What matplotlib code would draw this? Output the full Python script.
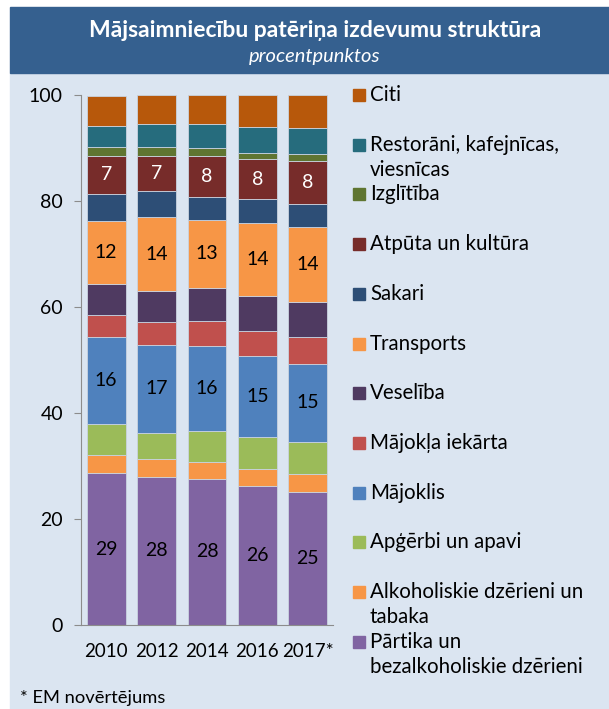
import matplotlib
matplotlib.use('Agg')
import matplotlib.pyplot as plt
from matplotlib.patches import Rectangle
import numpy as np

plt.rcParams['font.family'] = ['Lato', 'DejaVu Sans']

years = ['2010', '2012', '2014', '2016', '2017*']

# shares in percent, bottom to top
partika = [28.6, 28.0, 27.6, 26.2, 25.1]
alkohols = [3.4, 3.3, 3.2, 3.2, 3.4]
apgerbi = [6.0, 4.9, 5.8, 6.0, 6.1]
majoklis = [16.4, 16.7, 16.1, 15.3, 14.6]
iekarta = [4.1, 4.3, 4.7, 4.8, 5.1]
veseliba = [5.9, 5.8, 6.2, 6.6, 6.6]
transports = [11.9, 14.0, 12.8, 13.8, 14.2]
sakari = [5.1, 4.8, 4.3, 4.4, 4.4]
atputa = [7.1, 6.7, 7.8, 7.6, 8.1]
izglitiba = [1.7, 1.7, 1.45, 1.25, 1.3]
restorani = [4.0, 4.35, 4.55, 4.85, 4.8]
citi = [5.7, 5.45, 5.5, 6.0, 6.3]

series = [partika, alkohols, apgerbi, majoklis, iekarta, veseliba,
          transports, sakari, atputa, izglitiba, restorani, citi]
names = ['Pārtika un\nbezalkoholiskie dzērieni', 'Alkoholiskie dzērieni un\ntabaka',
         'Apģērbi un apavi', 'Mājoklis', 'Mājokļa iekārta', 'Veselība',
         'Transports', 'Sakari', 'Atpūta un kultūra', 'Izglītība',
         'Restorāni, kafejnīcas,\nviesnīcas', 'Citi']
colors = ['#8064A2', '#F79646', '#9BBB59', '#4F81BD', '#C0504D', '#4F3A61',
          '#F79646', '#2D4E76', '#772C2A', '#5F7531', '#266C7D', '#B7580B']
# which series carry value labels, and label colour
labelled = {0: 'black', 3: 'black', 6: 'black', 8: 'white'}

bg = '#DBE5F1'
band = '#35608F'

W, H = 609, 709
fig = plt.figure(figsize=(6.09, 7.09), dpi=100)
fig.patch.set_facecolor('white')
fig.add_artist(Rectangle((10 / W, 0), 599 / W, 1 - 73 / H,
                         transform=fig.transFigure, color=bg, zorder=0))
fig.add_artist(Rectangle((10 / W, 1 - 73 / H), 599 / W, 66 / H,
                         transform=fig.transFigure, color=band, zorder=0))
fig.text(315 / W, 1 - 37 / H, 'Mājsaimniecību patēriņa izdevumu struktūra',
         ha='center', va='baseline', color='white', fontsize=16.5, fontweight='bold')
fig.text(315 / W, 1 - 62 / H, 'procentpunktos', ha='center', va='baseline',
         color='white', fontsize=14.5, style='italic')

ax = fig.add_axes([81 / W, 1 - 625 / H, 252 / W, 530 / H])
ax.set_facecolor('none')
x = np.arange(len(years))
bottom = np.zeros(len(years))
for i, (vals, c) in enumerate(zip(series, colors)):
    vals = np.array(vals)
    ax.bar(x, vals, 0.77, bottom=bottom, color=c, edgecolor='#c9d3e0', linewidth=0.6)
    if i in labelled:
        for xi, b, v in zip(x, bottom, vals):
            ax.text(xi, b + v / 2, f'{v:.0f}', ha='center', va='center',
                    fontsize=14, color=labelled[i])
    bottom += vals

ax.set_xlim(-0.5, 4.5)
ax.set_ylim(0, 100)
ax.set_yticks(range(0, 101, 20))
ax.set_xticks(x)
ax.set_xticklabels(years)
for s in ['top', 'right']:
    ax.spines[s].set_visible(False)
for s in ['left', 'bottom']:
    ax.spines[s].set_color('#8c8c8c')
ax.tick_params(axis='y', length=5, color='#8c8c8c', labelsize=14, pad=8)
ax.tick_params(axis='x', length=0, labelsize=13.5, pad=13)

# legend, top entry first
y0 = 95
for k, i in enumerate(range(len(series) - 1, -1, -1)):
    yy = y0 + k * 49.7
    fig.add_artist(Rectangle((353 / W, 1 - (yy + 6) / H), 12 / W, 12 / H,
                             transform=fig.transFigure, color=colors[i]))
    for j, line in enumerate(names[i].split('\n')):
        fig.text(370 / W, 1 - (yy + 6 + j * 25) / H, line, ha='left',
                 va='baseline', fontsize=14.8)

fig.text(20 / W, 1 - 698 / H, '* EM novērtējums', ha='left', va='center',
         fontsize=13.2)

fig.savefig('out.png', dpi=100, facecolor=fig.get_facecolor())
